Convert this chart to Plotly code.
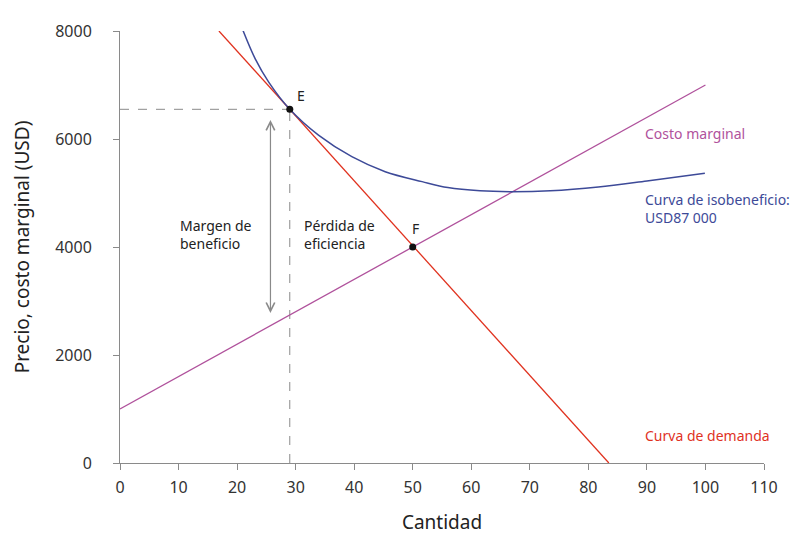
import plotly.graph_objects as go

# --- data ---------------------------------------------------------------
demand_q = [16.9, 83.5]
demand_p = [8000, 0]

mc_q = [0, 100]
mc_p = [1000, 7000]

iso_q = [20.9, 23.1, 25.4, 29, 33.9, 39.6, 45.3, 51.6, 56, 61.5, 67, 73.5, 81.7, 90, 99.9]
iso_p = [8040, 7484, 7054, 6550, 6071, 5672, 5395, 5211, 5100, 5040, 5025, 5042, 5112,
         5222, 5364]

point_q = [29, 50]
point_p = [6550, 4000]

arrow_q = 25.7
arrow_top = 6380
arrow_bottom = 2780

x_ticks = list(range(0, 111, 10))
y_ticks = [0, 2000, 4000, 6000, 8000]

RED = "#e0321f"
PURPLE = "#b0529c"
BLUE = "#3d4a98"
GREY = "#8a8a8a"
FONT = "Noto Sans"

fig = go.Figure()

# dashed guides to E
fig.add_trace(go.Scatter(x=[0, point_q[0]], y=[point_p[0], point_p[0]], mode="lines",
                         line=dict(color=GREY, width=1, dash="dash"), hoverinfo="skip"))
fig.add_trace(go.Scatter(x=[point_q[0], point_q[0]], y=[0, point_p[0]], mode="lines",
                         line=dict(color=GREY, width=1, dash="dash"), hoverinfo="skip"))

fig.add_trace(go.Scatter(x=mc_q, y=mc_p, mode="lines", line=dict(color=PURPLE, width=1.3)))
fig.add_trace(go.Scatter(x=demand_q, y=demand_p, mode="lines", line=dict(color=RED, width=1.3)))
fig.add_trace(go.Scatter(x=iso_q, y=iso_p, mode="lines",
                         line=dict(color=BLUE, width=1.5, shape="spline", smoothing=1)))
fig.add_trace(go.Scatter(x=point_q, y=point_p, mode="markers",
                         marker=dict(color="#111", size=7)))

# labels
fig.add_annotation(x=point_q[0], y=point_p[0], text="E", showarrow=False,
                   xanchor="left", yanchor="bottom", xshift=5, yshift=2,
                   font=dict(size=14, color="#222"))
fig.add_annotation(x=point_q[1], y=point_p[1], text="F", showarrow=False,
                   xanchor="center", yanchor="bottom", xshift=3, yshift=7,
                   font=dict(size=14, color="#222"))

# double-headed arrow for the profit margin
fig.add_annotation(x=arrow_q, y=arrow_bottom, ax=arrow_q, ay=arrow_top,
                   xref="x", yref="y", axref="x", ayref="y", text="",
                   showarrow=True, arrowhead=5, startarrowhead=5, arrowside="end+start",
                   arrowsize=1.4, startarrowsize=1.4, arrowwidth=1.2, arrowcolor=GREY)

fig.add_annotation(x=9.9, y=4225, text="Margen de<br>beneficio", showarrow=False,
                   xanchor="left", yanchor="middle", align="left",
                   font=dict(size=14, color="#222"))
fig.add_annotation(x=31.1, y=4225, text="Pérdida de<br>eficiencia", showarrow=False,
                   xanchor="left", yanchor="middle", align="left",
                   font=dict(size=14, color="#222"))

fig.add_annotation(x=89.3, y=6100, text="Costo marginal", showarrow=False,
                   xanchor="left", yanchor="middle", font=dict(size=14, color=PURPLE))
fig.add_annotation(x=89.3, y=4713, text="Curva de isobeneficio:<br>USD87 000",
                   showarrow=False, xanchor="left", yanchor="middle", align="left",
                   font=dict(size=14, color=BLUE))
fig.add_annotation(x=89.3, y=510, text="Curva de demanda", showarrow=False,
                   xanchor="left", yanchor="middle", font=dict(size=14, color=RED))

axis_common = dict(showgrid=False, zeroline=False, showline=True, linecolor=GREY,
                   linewidth=1, ticks="outside", ticklen=6, tickcolor=GREY,
                   tickfont=dict(size=16, color="#333"))

fig.update_xaxes(range=[0, 110], tickvals=x_ticks, ticklabelstandoff=4,
                 title=dict(text="Cantidad", font=dict(size=19, color="#222"), standoff=18),
                 **axis_common)
fig.update_yaxes(range=[0, 8000], tickvals=y_ticks, ticklabelstandoff=18,
                 title=dict(text="Precio, costo marginal (USD)",
                            font=dict(size=19, color="#222"), standoff=20),
                 **axis_common)

fig.update_layout(
    width=810, height=547,
    margin=dict(l=112, r=54, t=21, b=92),
    plot_bgcolor="white", paper_bgcolor="white",
    showlegend=False,
    font=dict(family=FONT),
)

fig.write_html("out.html")
